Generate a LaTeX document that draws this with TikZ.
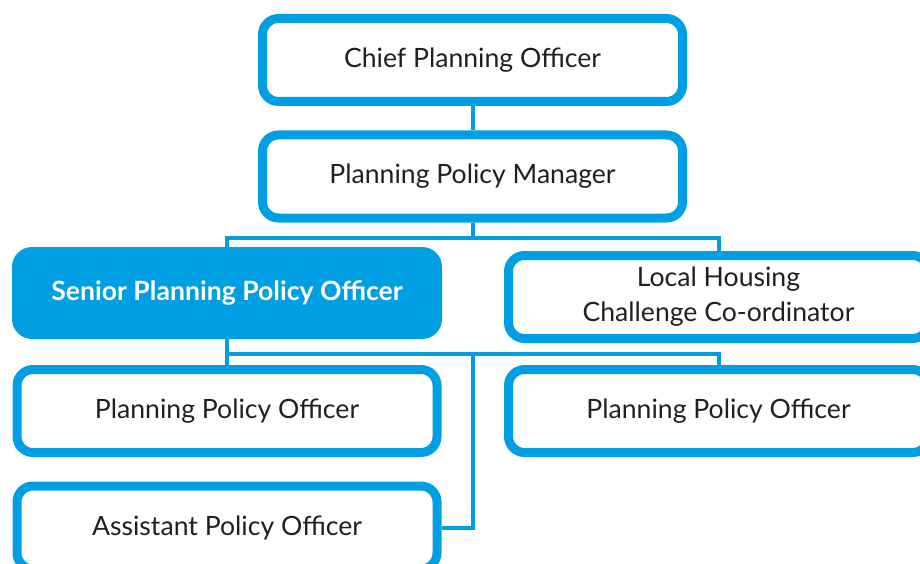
\documentclass[tikz,border=0pt]{standalone}
\usepackage{fontspec}
\setmainfont{Lato}
\definecolor{orgblue}{HTML}{009FE3}
\definecolor{txt}{HTML}{231F20}
\begin{document}
\begin{tikzpicture}[x=1pt,y=-1pt,
  box/.style={draw=orgblue,line width=9pt,rounded corners=16pt,minimum width=420pt,minimum height=83pt,fill=white,text=txt,font=\fontsize{26.6}{35}\selectfont,align=center,inner sep=0pt},
  senior/.style={fill=orgblue,rounded corners=20pt,minimum width=430pt,minimum height=92pt,text=white,font=\fontsize{26.6}{35}\selectfont\bfseries,inner sep=0pt},
  link/.style={draw=orgblue,line width=4pt}]
\useasboundingbox (0,0) rectangle (920,564);
\clip (0,0) rectangle (920,564);
\coordinate (bus1) at (0,237.5);
\coordinate (bus2) at (0,354);
\node[box] (chief) at (472.5,60) {Chief Planning Officer};
\node[box] (mgr) at (472.5,176.5) {Planning Policy Manager};
\node[senior] (senior) at (227,293) {Senior Planning Policy Officer};
\node[box] (local) at (718.5,297) {Local Housing\\Challenge Co-ordinator};
\node[box] (ppo1) at (227,411) {Planning Policy Officer};
\node[box] (ppo2) at (718.5,411) {Planning Policy Officer};
\node[box] (asst) at (227,527.5) {Assistant Policy Officer};
\draw[link] (chief) -- (mgr);
\draw[link] (mgr.south) -- (mgr.south |- bus1);
\draw[link] (senior.north) |- (local.north |- bus1) -- (local.north);
\draw[link] (senior.south) -- (ppo1.north);
\draw[link] (senior.south |- bus2) -- (ppo2.north |- bus2) -- (ppo2.north);
\draw[link] (mgr.south |- bus2) |- (asst.east);
\end{tikzpicture}
\end{document}
